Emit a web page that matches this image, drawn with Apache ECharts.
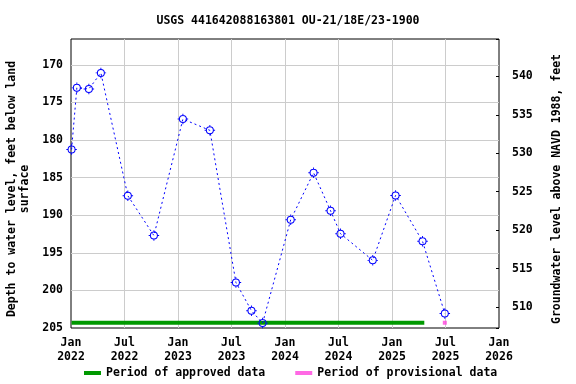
<!DOCTYPE html>
<html>
<head>
<meta charset="utf-8">
<script src="https://cdn.jsdelivr.net/npm/echarts@6/dist/echarts.min.js"></script>
<style>html,body{margin:0;padding:0;background:#fff}#c{width:576px;height:384px}</style>
</head>
<body>
<div id="c"></div>
<script>
const titleText = 'USGS 441642088163801 OU-21/18E/23-1900';
const leftAxisName = 'Depth to water level, feet below land\nsurface';
const rightAxisName = 'Groundwater level above NAVD 1988, feet';
const tickLabels = ['Jan\n2022','Jul\n2022','Jan\n2023','Jul\n2023','Jan\n2024','Jul\n2024','Jan\n2025','Jul\n2025','Jan\n2026'];
const sampleDates = ['2022-01-03','2022-01-21','2022-03-03','2022-04-13','2022-07-14','2022-10-11','2023-01-18','2023-04-20','2023-07-18','2023-09-09','2023-10-17','2024-01-21','2024-04-08','2024-06-05','2024-07-09','2024-10-27','2025-01-13','2025-04-15','2025-06-30'];
const depths = [181.25,173.05,173.2,171.06,187.4,192.7,177.2,178.7,198.95,202.7,204.35,190.6,184.35,189.4,192.45,196.0,187.36,193.47,203.07];
const approvedPeriod = ['2022-01-03','2025-04-21'];
const provisionalPeriod = ['2025-06-30'];
const periodDepth = 204.3;
const legendNames = ['Period of approved data','Period of provisional data'];

const origin = Date.UTC(2022,0,1);
function dayOf(s){const p=s.split('-');return (Date.UTC(+p[0],+p[1]-1,+p[2])-origin)/86400000;}
const xMax = dayOf('2026-01-01');
const xInterval = xMax/8;
const FONT = '"DejaVu Sans Mono", monospace';
const fs = 11.5;
const markerPath = 'path://M2.4,10 A7.6,7.6 0 1,1 17.6,10 A7.6,7.6 0 1,1 2.4,10 Z M4.3,10 A5.7,5.7 0 1,0 15.7,10 A5.7,5.7 0 1,0 4.3,10 Z M9.1,0 H10.9 V2.6 H9.1 Z M9.1,17.4 H10.9 V20 H9.1 Z M0,9.1 H2.6 V10.9 H0 Z M17.4,9.1 H20 V10.9 H17.4 Z';

const chart = echarts.init(document.getElementById('c'));
chart.setOption({
  animation:false,
  backgroundColor:'#fff',
  title:{text:titleText,left:'center',top:10,textStyle:{fontFamily:FONT,fontWeight:'bold',fontSize:fs,color:'#000'}},
  grid:{left:71,right:77,top:39,bottom:56,show:true,borderColor:'#000',borderWidth:1,backgroundColor:'transparent'},
  legend:{left:79,top:362,itemWidth:17,itemHeight:4,itemGap:30,
    textStyle:{fontFamily:FONT,fontWeight:'bold',fontSize:fs,color:'#000'},
    data:[{name:legendNames[0],icon:'rect'},{name:legendNames[1],icon:'rect'}]},
  xAxis:{type:'value',min:0,max:xMax,interval:xInterval,
    axisLine:{show:false},axisTick:{show:false},
    splitLine:{show:true,showMinLine:false,showMaxLine:false,lineStyle:{color:'#cccccc',width:1}},
    axisLabel:{showMinLabel:true,showMaxLabel:true,margin:8,fontFamily:FONT,fontWeight:'bold',fontSize:fs,color:'#000',lineHeight:14,
      formatter:v=>tickLabels[Math.round(v/xInterval)]||''}},
  yAxis:[
    {type:'value',inverse:true,min:166.55,max:205,splitNumber:8,
      axisLine:{show:false},axisTick:{show:false},
      splitLine:{show:true,showMinLine:false,showMaxLine:false,lineStyle:{color:'#cccccc',width:1}},
      axisLabel:{margin:8,showMaxLabel:true,fontFamily:FONT,fontWeight:'bold',fontSize:fs,color:'#000',
        formatter:v=>Math.abs(v/5-Math.round(v/5))<1e-6?String(Math.round(v)):''}},
    {type:'value',position:'right',min:507.27,max:544.87,splitNumber:8,
      axisLine:{show:false},axisTick:{show:true,inside:true,length:3,lineStyle:{color:'#000'}},
      splitLine:{show:false},
      axisLabel:{margin:13,fontFamily:FONT,fontWeight:'bold',fontSize:fs,color:'#000',
        formatter:v=>Math.abs(v/5-Math.round(v/5))<1e-6?String(Math.round(v)):''}}
  ],
  graphic:[
    {type:'text',x:18.5,y:189,rotation:Math.PI/2,style:{text:leftAxisName,align:'center',verticalAlign:'middle',fontFamily:FONT,fontWeight:'bold',fontSize:fs,lineHeight:13.5,fill:'#000'}},
    {type:'text',x:557,y:189,rotation:Math.PI/2,style:{text:rightAxisName,align:'center',verticalAlign:'middle',fontFamily:FONT,fontWeight:'bold',fontSize:fs,fill:'#000'}}
  ],
  series:[
    {name:legendNames[0],type:'line',yAxisIndex:0,symbol:'none',z:3,
      lineStyle:{color:'#009900',width:4},itemStyle:{color:'#009900'},
      data:approvedPeriod.map(d=>[dayOf(d),periodDepth])},
    {name:legendNames[1],type:'scatter',yAxisIndex:0,symbol:'rect',symbolSize:[4,4],z:3,
      itemStyle:{color:'#ff44dd'},
      data:provisionalPeriod.map(d=>[dayOf(d),periodDepth])},
    {name:'levels',type:'line',yAxisIndex:0,z:4,symbol:markerPath,symbolSize:10.5,
      lineStyle:{color:'#0000ff',width:1,type:[2,3]},
      itemStyle:{color:'#0000ff',borderWidth:0},
      data:sampleDates.map((d,i)=>[dayOf(d),depths[i]])}
  ]
});
</script>
</body>
</html>
